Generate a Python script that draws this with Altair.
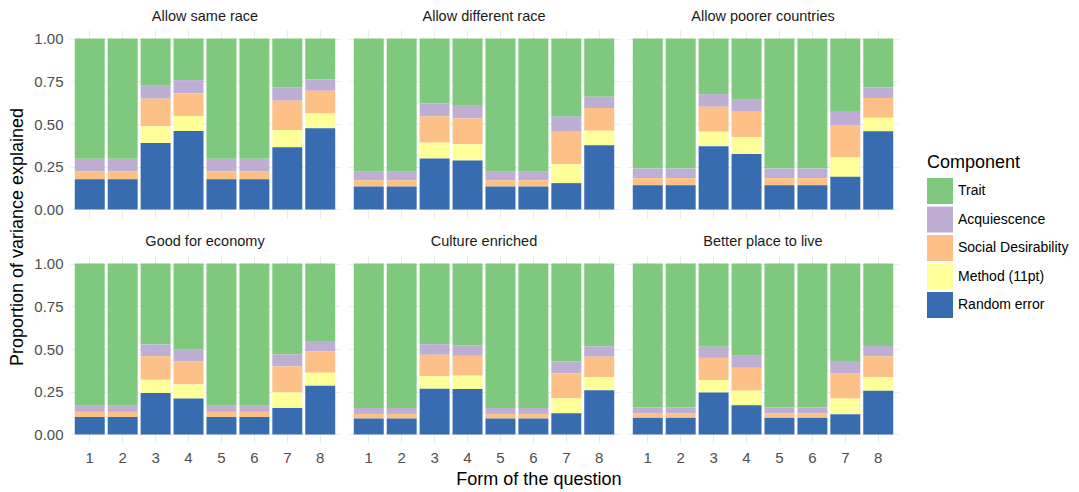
import altair as alt
import pandas as pd

panels = ["Allow same race", "Allow different race", "Allow poorer countries",
          "Good for economy", "Culture enriched", "Better place to live"]
forms = [1, 2, 3, 4, 5, 6, 7, 8]
components = ["Trait", "Acquiescence", "Social Desirability", "Method (11pt)", "Random error"]
colors = ["#7fc97f", "#beaed4", "#fdc086", "#ffff99", "#386cb0"]
y_grid = [0, 0.125, 0.25, 0.375, 0.5, 0.625, 0.75, 0.875, 1.0]

# Allow same race
same_trait = [0.704, 0.704, 0.272, 0.243, 0.704, 0.704, 0.286, 0.239]
same_acq = [0.072, 0.072, 0.080, 0.078, 0.072, 0.072, 0.078, 0.066]
same_sd = [0.047, 0.047, 0.162, 0.132, 0.047, 0.047, 0.171, 0.133]
same_meth = [0.0, 0.0, 0.097, 0.088, 0.0, 0.0, 0.101, 0.087]
same_err = [0.177, 0.177, 0.389, 0.459, 0.177, 0.177, 0.364, 0.475]

# Allow different race
diff_trait = [0.776, 0.776, 0.379, 0.389, 0.776, 0.776, 0.457, 0.340]
diff_acq = [0.053, 0.053, 0.076, 0.078, 0.053, 0.053, 0.088, 0.066]
diff_sd = [0.037, 0.037, 0.154, 0.152, 0.037, 0.037, 0.191, 0.133]
diff_meth = [0.0, 0.0, 0.093, 0.095, 0.0, 0.0, 0.110, 0.086]
diff_err = [0.134, 0.134, 0.298, 0.286, 0.134, 0.134, 0.154, 0.375]

# Allow poorer countries
poor_trait = [0.761, 0.761, 0.325, 0.354, 0.761, 0.761, 0.424, 0.286]
poor_acq = [0.056, 0.056, 0.074, 0.074, 0.056, 0.056, 0.086, 0.062]
poor_sd = [0.041, 0.041, 0.146, 0.148, 0.041, 0.041, 0.186, 0.115]
poor_meth = [0.0, 0.0, 0.085, 0.099, 0.0, 0.0, 0.113, 0.080]
poor_err = [0.142, 0.142, 0.370, 0.325, 0.142, 0.142, 0.191, 0.457]

# Good for economy
econ_trait = [0.828, 0.828, 0.474, 0.501, 0.828, 0.828, 0.532, 0.453]
econ_acq = [0.040, 0.040, 0.068, 0.070, 0.040, 0.040, 0.070, 0.060]
econ_sd = [0.030, 0.030, 0.138, 0.136, 0.030, 0.030, 0.152, 0.126]
econ_meth = [0.0, 0.0, 0.078, 0.083, 0.0, 0.0, 0.091, 0.076]
econ_err = [0.102, 0.102, 0.242, 0.210, 0.102, 0.102, 0.155, 0.285]

# Culture enriched
cult_trait = [0.845, 0.845, 0.472, 0.478, 0.845, 0.845, 0.573, 0.484]
cult_acq = [0.035, 0.035, 0.062, 0.062, 0.035, 0.035, 0.070, 0.062]
cult_sd = [0.027, 0.027, 0.125, 0.116, 0.027, 0.027, 0.146, 0.119]
cult_meth = [0.0, 0.0, 0.073, 0.078, 0.0, 0.0, 0.087, 0.077]
cult_err = [0.093, 0.093, 0.268, 0.266, 0.093, 0.093, 0.124, 0.258]

# Better place to live
live_trait = [0.841, 0.841, 0.487, 0.536, 0.841, 0.841, 0.570, 0.482]
live_acq = [0.035, 0.035, 0.065, 0.074, 0.035, 0.035, 0.071, 0.060]
live_sd = [0.027, 0.027, 0.130, 0.134, 0.027, 0.027, 0.149, 0.123]
live_meth = [0.0, 0.0, 0.073, 0.085, 0.0, 0.0, 0.092, 0.079]
live_err = [0.097, 0.097, 0.245, 0.171, 0.097, 0.097, 0.118, 0.256]

panel_series = {
    "Allow same race": [same_trait, same_acq, same_sd, same_meth, same_err],
    "Allow different race": [diff_trait, diff_acq, diff_sd, diff_meth, diff_err],
    "Allow poorer countries": [poor_trait, poor_acq, poor_sd, poor_meth, poor_err],
    "Good for economy": [econ_trait, econ_acq, econ_sd, econ_meth, econ_err],
    "Culture enriched": [cult_trait, cult_acq, cult_sd, cult_meth, cult_err],
    "Better place to live": [live_trait, live_acq, live_sd, live_meth, live_err],
}

rows = []
for p in panels:
    for ci, comp in enumerate(components):
        for f, v in zip(forms, panel_series[p][ci]):
            rows.append({"panel": p, "form": f, "component": comp,
                         "rank": len(components) - 1 - ci, "value": v})
df = pd.DataFrame(rows)

FONT = "Liberation Sans"
minor_test = "(datum.value * 4) % 1 != 0"

bars = alt.Chart(df).mark_bar().encode(
    x=alt.X("form:O",
            scale=alt.Scale(paddingInner=0.09, paddingOuter=0.145),
            axis=alt.Axis(title=None, labelAngle=0, ticks=False, domain=False,
                          grid=True, gridColor="#ebebeb", gridWidth=1,
                          labelFontSize=15, labelColor="#4d4d4d", labelPadding=7.5,
                          labelFont=FONT)),
    y=alt.Y("value:Q", stack="zero",
            scale=alt.Scale(domain=[-0.05, 1.05], nice=False, zero=False),
            axis=alt.Axis(title=None, values=y_grid, ticks=False, domain=False,
                          labelExpr="(datum.value * 4) % 1 != 0 ? '' : format(datum.value, '.2f')",
                          gridColor={"condition": {"test": minor_test, "value": "#f4f4f4"},
                                     "value": "#ebebeb"},
                          gridWidth={"condition": {"test": minor_test, "value": 0.6},
                                     "value": 1},
                          labelFontSize=15, labelColor="#4d4d4d", labelPadding=7,
                          labelFont=FONT)),
    color=alt.Color("component:N",
                    scale=alt.Scale(domain=components, range=colors),
                    legend=alt.Legend(title="Component", orient="none",
                                      legendX=857, legendY=124,
                                      symbolType="square", symbolSize=676,
                                      symbolStrokeWidth=0, symbolOpacity=1,
                                      titleFontSize=18, titleFontWeight="normal",
                                      titleFont=FONT, titleColor="black",
                                      labelFontSize=14, labelFont=FONT,
                                      labelColor="black", labelOffset=5,
                                      rowPadding=2.5, titlePadding=6)),
    order=alt.Order("rank:Q", sort="ascending"),
).properties(width=270, height=188)

facet = bars.facet(
    facet=alt.Facet("panel:N", sort=panels,
                    header=alt.Header(title=None, labelFontSize=14.5,
                                      labelFont=FONT, labelColor="#1a1a1a",
                                      labelPadding=6)),
    columns=3,
    spacing={"row": 15, "column": 9},
).properties(
    title=alt.TitleParams("Proportion of variance explained", orient="left",
                          anchor="middle", fontSize=18, font=FONT,
                          fontWeight="normal", color="black", offset=7)
)

chart = alt.vconcat(facet).properties(
    title=alt.TitleParams("Form of the question", orient="bottom",
                          anchor="middle", fontSize=18, font=FONT,
                          fontWeight="normal", color="black", offset=5),
    padding=0,
).configure(background="white").configure_view(stroke="transparent", strokeWidth=0)

chart.save("out.html", embed_options={"renderer": "svg", "actions": False})
